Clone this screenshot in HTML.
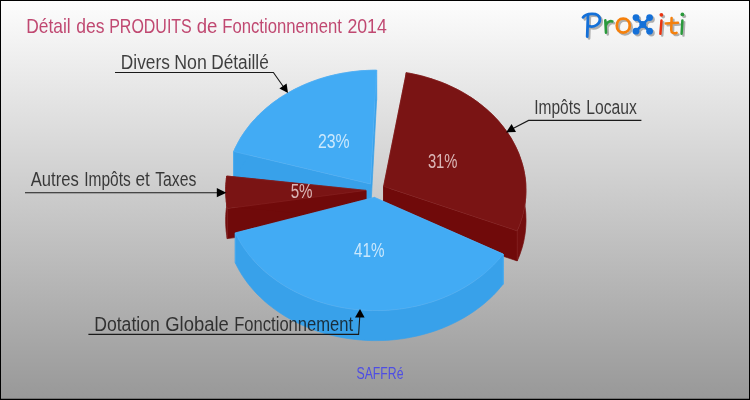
<!DOCTYPE html>
<html><head><meta charset="utf-8"><title>Chart</title>
<style>
html,body{margin:0;padding:0;background:#fff;}
body{width:750px;height:400px;overflow:hidden;}
svg{display:block;font-family:"Liberation Sans",sans-serif;}
</style></head><body>
<svg width="750" height="400" viewBox="0 0 750 400">
<defs>
<linearGradient id="bg" x1="0" y1="0" x2="0" y2="1">
<stop offset="0" stop-color="#FDFDFD"/><stop offset="1" stop-color="#989898"/>
</linearGradient>
<filter id="id" x="-5%" y="-5%" width="110%" height="110%"><feOffset dx="0" dy="0"/></filter>
</defs>
<rect x="0" y="0" width="750" height="400" fill="url(#bg)"/>
<g filter="url(#id)">
<!-- title -->
<g font-size="20.3" fill="#B8305F" fill-opacity="0.88">
<text x="26.3" y="32.6" textLength="44.4" lengthAdjust="spacingAndGlyphs">Détail</text>
<text x="76.2" y="32.6" textLength="28.2" lengthAdjust="spacingAndGlyphs">des</text>
<text x="109.2" y="32.6" textLength="82.6" lengthAdjust="spacingAndGlyphs">PRODUITS</text>
<text x="196.7" y="32.6" textLength="20.7" lengthAdjust="spacingAndGlyphs">de</text>
<text x="222.2" y="32.6" textLength="119.8" lengthAdjust="spacingAndGlyphs">Fonctionnement</text>
<text x="347.4" y="32.6" textLength="39.4" lengthAdjust="spacingAndGlyphs">2014</text>
</g>
<!-- pie -->
<g shape-rendering="geometricPrecision">
<!-- divers -->
<polygon points="370.5,184.0 233.7,151.5 233.7,181.5 370.5,214.0" fill="#38A1EA" stroke="#38A1EA" stroke-width="0.7" stroke-linejoin="round"/>
<polygon points="370.5,184.0 376.6,70.2 376.6,100.2 370.5,214.0" fill="#38A1EA" stroke="#38A1EA" stroke-width="0.7" stroke-linejoin="round"/>
<polygon points="233.7,151.5 234.7,149.1 235.8,146.8 237.0,144.5 238.2,142.2 239.5,139.9 240.8,137.6 242.2,135.4 243.7,133.2 245.2,131.0 246.8,128.9 248.4,126.7 250.1,124.6 251.8,122.5 253.6,120.5 255.5,118.5 257.3,116.5 259.3,114.5 261.3,112.6 263.3,110.7 265.4,108.9 267.6,107.1 269.7,105.3 272.0,103.5 274.2,101.8 276.6,100.2 278.9,98.5 281.3,96.9 283.8,95.4 286.3,93.9 288.8,92.4 291.4,91.0 294.0,89.6 296.6,88.3 299.3,87.0 302.0,85.7 304.7,84.5 307.4,83.4 310.2,82.3 313.1,81.2 315.9,80.2 318.8,79.2 321.7,78.3 324.6,77.4 327.5,76.6 330.5,75.8 333.5,75.1 336.5,74.4 339.5,73.8 342.5,73.2 345.6,72.7 348.7,72.2 351.7,71.8 354.8,71.4 357.9,71.1 361.0,70.8 364.1,70.6 367.2,70.4 370.3,70.3 373.5,70.2 376.6,70.2 376.6,100.2 373.5,100.2 370.3,100.3 367.2,100.4 364.1,100.6 361.0,100.8 357.9,101.1 354.8,101.4 351.7,101.8 348.7,102.2 345.6,102.7 342.5,103.2 339.5,103.8 336.5,104.4 333.5,105.1 330.5,105.8 327.5,106.6 324.6,107.4 321.7,108.3 318.8,109.2 315.9,110.2 313.1,111.2 310.2,112.3 307.4,113.4 304.7,114.5 302.0,115.7 299.3,117.0 296.6,118.3 294.0,119.6 291.4,121.0 288.8,122.4 286.3,123.9 283.8,125.4 281.3,126.9 278.9,128.5 276.6,130.2 274.2,131.8 272.0,133.5 269.7,135.3 267.6,137.1 265.4,138.9 263.3,140.7 261.3,142.6 259.3,144.5 257.3,146.5 255.5,148.5 253.6,150.5 251.8,152.5 250.1,154.6 248.4,156.7 246.8,158.9 245.2,161.0 243.7,163.2 242.2,165.4 240.8,167.6 239.5,169.9 238.2,172.2 237.0,174.5 235.8,176.8 234.7,179.1 233.7,181.5" fill="#38A1EA" stroke="#38A1EA" stroke-width="0.7" stroke-linejoin="round"/>
<line x1="233.7" y1="151.5" x2="233.7" y2="181.5" stroke="#62B8F8" stroke-width="0.8" stroke-opacity="0.55"/>
<line x1="376.6" y1="70.2" x2="376.6" y2="100.2" stroke="#62B8F8" stroke-width="0.8" stroke-opacity="0.55"/>
<polygon points="370.5,184.0 233.7,151.5 234.7,149.1 235.8,146.8 237.0,144.5 238.2,142.2 239.5,139.9 240.8,137.6 242.2,135.4 243.7,133.2 245.2,131.0 246.8,128.9 248.4,126.7 250.1,124.6 251.8,122.5 253.6,120.5 255.5,118.5 257.3,116.5 259.3,114.5 261.3,112.6 263.3,110.7 265.4,108.9 267.6,107.1 269.7,105.3 272.0,103.5 274.2,101.8 276.6,100.2 278.9,98.5 281.3,96.9 283.8,95.4 286.3,93.9 288.8,92.4 291.4,91.0 294.0,89.6 296.6,88.3 299.3,87.0 302.0,85.7 304.7,84.5 307.4,83.4 310.2,82.3 313.1,81.2 315.9,80.2 318.8,79.2 321.7,78.3 324.6,77.4 327.5,76.6 330.5,75.8 333.5,75.1 336.5,74.4 339.5,73.8 342.5,73.2 345.6,72.7 348.7,72.2 351.7,71.8 354.8,71.4 357.9,71.1 361.0,70.8 364.1,70.6 367.2,70.4 370.3,70.3 373.5,70.2 376.6,70.2" fill="#42ABF4" stroke="#62B8F8" stroke-width="0.8" stroke-opacity="0.55" stroke-linejoin="round"/>
<!-- imp -->
<polygon points="383.6,186.4 406.3,72.7 406.3,102.7 383.6,216.4" fill="#700A0A" stroke="#700A0A" stroke-width="0.7" stroke-linejoin="round"/>
<polygon points="383.6,186.4 517.2,230.9 517.2,260.9 383.6,216.4" fill="#700A0A" stroke="#700A0A" stroke-width="0.7" stroke-linejoin="round"/>
<polygon points="406.3,72.7 410.4,73.4 414.6,74.3 418.7,75.2 422.8,76.2 426.8,77.4 430.8,78.6 434.8,79.9 438.7,81.3 442.6,82.7 446.4,84.3 450.1,86.0 453.8,87.7 457.5,89.5 461.0,91.4 464.5,93.4 467.9,95.5 471.3,97.6 474.5,99.8 477.7,102.1 480.8,104.5 483.8,106.9 486.8,109.4 489.6,112.0 492.4,114.6 495.0,117.3 497.6,120.0 500.0,122.8 502.4,125.7 504.6,128.6 506.8,131.6 508.8,134.6 510.8,137.6 512.6,140.7 514.3,143.9 515.9,147.1 517.4,150.3 518.8,153.5 520.0,156.8 521.1,160.1 522.2,163.4 523.1,166.8 523.9,170.1 524.5,173.5 525.1,176.9 525.5,180.3 525.8,183.8 525.9,187.2 526.0,190.6 525.9,194.0 525.7,197.5 525.4,200.9 525.0,204.3 524.4,207.7 523.8,211.1 523.0,214.4 522.1,217.8 521.0,221.1 519.9,224.4 518.6,227.7 517.2,230.9 517.2,260.9 518.6,257.7 519.9,254.4 521.0,251.1 522.1,247.8 523.0,244.4 523.8,241.1 524.4,237.7 525.0,234.3 525.4,230.9 525.7,227.5 525.9,224.0 526.0,220.6 525.9,217.2 525.8,213.8 525.5,210.3 525.1,206.9 524.5,203.5 523.9,200.1 523.1,196.8 522.2,193.4 521.1,190.1 520.0,186.8 518.8,183.5 517.4,180.3 515.9,177.1 514.3,173.9 512.6,170.7 510.8,167.6 508.8,164.6 506.8,161.6 504.6,158.6 502.4,155.7 500.0,152.8 497.6,150.0 495.0,147.3 492.4,144.6 489.6,142.0 486.8,139.4 483.8,136.9 480.8,134.5 477.7,132.1 474.5,129.8 471.3,127.6 467.9,125.5 464.5,123.4 461.0,121.4 457.5,119.5 453.8,117.7 450.1,116.0 446.4,114.3 442.6,112.7 438.7,111.3 434.8,109.9 430.8,108.6 426.8,107.4 422.8,106.2 418.7,105.2 414.6,104.3 410.4,103.4 406.3,102.7" fill="#740E0E" stroke="#740E0E" stroke-width="0.7" stroke-linejoin="round"/>
<line x1="406.3" y1="72.7" x2="406.3" y2="102.7" stroke="#8E2C2C" stroke-width="0.8" stroke-opacity="0.55"/>
<line x1="517.2" y1="230.9" x2="517.2" y2="260.9" stroke="#8E2C2C" stroke-width="0.8" stroke-opacity="0.55"/>
<polygon points="383.6,186.4 406.3,72.7 410.4,73.4 414.6,74.3 418.7,75.2 422.8,76.2 426.8,77.4 430.8,78.6 434.8,79.9 438.7,81.3 442.6,82.7 446.4,84.3 450.1,86.0 453.8,87.7 457.5,89.5 461.0,91.4 464.5,93.4 467.9,95.5 471.3,97.6 474.5,99.8 477.7,102.1 480.8,104.5 483.8,106.9 486.8,109.4 489.6,112.0 492.4,114.6 495.0,117.3 497.6,120.0 500.0,122.8 502.4,125.7 504.6,128.6 506.8,131.6 508.8,134.6 510.8,137.6 512.6,140.7 514.3,143.9 515.9,147.1 517.4,150.3 518.8,153.5 520.0,156.8 521.1,160.1 522.2,163.4 523.1,166.8 523.9,170.1 524.5,173.5 525.1,176.9 525.5,180.3 525.8,183.8 525.9,187.2 526.0,190.6 525.9,194.0 525.7,197.5 525.4,200.9 525.0,204.3 524.4,207.7 523.8,211.1 523.0,214.4 522.1,217.8 521.0,221.1 519.9,224.4 518.6,227.7 517.2,230.9" fill="#7A1414" stroke="#8E2C2C" stroke-width="0.8" stroke-opacity="0.55" stroke-linejoin="round"/>
<!-- autres -->
<polygon points="366.0,190.4 227.3,208.6 227.3,238.6 366.0,220.4" fill="#700A0A" stroke="#700A0A" stroke-width="0.7" stroke-linejoin="round"/>
<polygon points="366.0,190.4 226.7,176.0 226.7,206.0 366.0,220.4" fill="#700A0A" stroke="#700A0A" stroke-width="0.7" stroke-linejoin="round"/>
<polygon points="227.3,208.6 227.2,208.0 227.1,207.5 227.0,207.0 226.9,206.4 226.9,205.9 226.8,205.3 226.7,204.8 226.6,204.3 226.5,203.7 226.5,203.2 226.4,202.6 226.3,202.1 226.2,201.5 226.2,201.0 226.1,200.5 226.1,199.9 226.0,199.4 226.0,198.8 225.9,198.3 225.9,197.7 225.8,197.2 225.8,196.6 225.8,196.1 225.7,195.6 225.7,195.0 225.7,194.5 225.7,193.9 225.6,193.4 225.6,192.8 225.6,192.3 225.6,191.7 225.6,191.2 225.6,190.7 225.6,190.1 225.6,189.6 225.6,189.0 225.6,188.5 225.6,187.9 225.6,187.4 225.7,186.8 225.7,186.3 225.7,185.7 225.7,185.2 225.8,184.7 225.8,184.1 225.8,183.6 225.9,183.0 225.9,182.5 226.0,181.9 226.0,181.4 226.1,180.8 226.1,180.3 226.2,179.8 226.3,179.2 226.3,178.7 226.4,178.1 226.5,177.6 226.5,177.0 226.6,176.5 226.7,176.0 226.7,206.0 226.6,206.5 226.5,207.0 226.5,207.6 226.4,208.1 226.3,208.7 226.3,209.2 226.2,209.8 226.1,210.3 226.1,210.8 226.0,211.4 226.0,211.9 225.9,212.5 225.9,213.0 225.8,213.6 225.8,214.1 225.8,214.7 225.7,215.2 225.7,215.7 225.7,216.3 225.7,216.8 225.6,217.4 225.6,217.9 225.6,218.5 225.6,219.0 225.6,219.6 225.6,220.1 225.6,220.7 225.6,221.2 225.6,221.7 225.6,222.3 225.6,222.8 225.6,223.4 225.7,223.9 225.7,224.5 225.7,225.0 225.7,225.6 225.8,226.1 225.8,226.6 225.8,227.2 225.9,227.7 225.9,228.3 226.0,228.8 226.0,229.4 226.1,229.9 226.1,230.5 226.2,231.0 226.2,231.5 226.3,232.1 226.4,232.6 226.5,233.2 226.5,233.7 226.6,234.3 226.7,234.8 226.8,235.3 226.9,235.9 226.9,236.4 227.0,237.0 227.1,237.5 227.2,238.0 227.3,238.6" fill="#740E0E" stroke="#740E0E" stroke-width="0.7" stroke-linejoin="round"/>
<line x1="227.3" y1="208.6" x2="227.3" y2="238.6" stroke="#8E2C2C" stroke-width="0.8" stroke-opacity="0.55"/>
<line x1="226.7" y1="176.0" x2="226.7" y2="206.0" stroke="#8E2C2C" stroke-width="0.8" stroke-opacity="0.55"/>
<polygon points="366.0,190.4 227.3,208.6 227.2,208.0 227.1,207.5 227.0,207.0 226.9,206.4 226.9,205.9 226.8,205.3 226.7,204.8 226.6,204.3 226.5,203.7 226.5,203.2 226.4,202.6 226.3,202.1 226.2,201.5 226.2,201.0 226.1,200.5 226.1,199.9 226.0,199.4 226.0,198.8 225.9,198.3 225.9,197.7 225.8,197.2 225.8,196.6 225.8,196.1 225.7,195.6 225.7,195.0 225.7,194.5 225.7,193.9 225.6,193.4 225.6,192.8 225.6,192.3 225.6,191.7 225.6,191.2 225.6,190.7 225.6,190.1 225.6,189.6 225.6,189.0 225.6,188.5 225.6,187.9 225.6,187.4 225.7,186.8 225.7,186.3 225.7,185.7 225.7,185.2 225.8,184.7 225.8,184.1 225.8,183.6 225.9,183.0 225.9,182.5 226.0,181.9 226.0,181.4 226.1,180.8 226.1,180.3 226.2,179.8 226.3,179.2 226.3,178.7 226.4,178.1 226.5,177.6 226.5,177.0 226.6,176.5 226.7,176.0" fill="#7A1414" stroke="#8E2C2C" stroke-width="0.8" stroke-opacity="0.55" stroke-linejoin="round"/>
<!-- dot -->
<polygon points="374.4,197.4 503.2,254.1 503.2,284.1 374.4,227.4" fill="#38A1EA" stroke="#38A1EA" stroke-width="0.7" stroke-linejoin="round"/>
<polygon points="374.4,197.4 235.3,232.9 235.3,262.9 374.4,227.4" fill="#38A1EA" stroke="#38A1EA" stroke-width="0.7" stroke-linejoin="round"/>
<polygon points="503.2,254.1 500.1,257.8 496.9,261.5 493.6,265.0 490.0,268.4 486.3,271.8 482.5,275.0 478.5,278.1 474.4,281.1 470.1,283.9 465.7,286.7 461.2,289.3 456.6,291.7 451.8,294.1 447.0,296.2 442.1,298.3 437.0,300.2 431.9,301.9 426.7,303.5 421.4,304.9 416.1,306.2 410.7,307.3 405.3,308.3 399.8,309.1 394.3,309.7 388.8,310.2 383.2,310.5 377.7,310.6 372.1,310.6 366.6,310.4 361.0,310.0 355.5,309.5 350.0,308.8 344.5,308.0 339.1,307.0 333.7,305.8 328.4,304.5 323.2,303.0 318.0,301.4 312.9,299.6 307.9,297.6 303.0,295.5 298.2,293.3 293.5,290.9 288.9,288.4 284.4,285.8 280.1,283.0 275.8,280.1 271.8,277.1 267.8,274.0 264.0,270.7 260.4,267.3 256.9,263.9 253.6,260.3 250.4,256.6 247.5,252.9 244.7,249.0 242.0,245.1 239.6,241.1 237.4,237.0 235.3,232.9 235.3,262.9 237.4,267.0 239.6,271.1 242.0,275.1 244.7,279.0 247.5,282.9 250.4,286.6 253.6,290.3 256.9,293.9 260.4,297.3 264.0,300.7 267.8,304.0 271.8,307.1 275.8,310.1 280.1,313.0 284.4,315.8 288.9,318.4 293.5,320.9 298.2,323.3 303.0,325.5 307.9,327.6 312.9,329.6 318.0,331.4 323.2,333.0 328.4,334.5 333.7,335.8 339.1,337.0 344.5,338.0 350.0,338.8 355.5,339.5 361.0,340.0 366.6,340.4 372.1,340.6 377.7,340.6 383.2,340.5 388.8,340.2 394.3,339.7 399.8,339.1 405.3,338.3 410.7,337.3 416.1,336.2 421.4,334.9 426.7,333.5 431.9,331.9 437.0,330.2 442.1,328.3 447.0,326.2 451.8,324.1 456.6,321.7 461.2,319.3 465.7,316.7 470.1,313.9 474.4,311.1 478.5,308.1 482.5,305.0 486.3,301.8 490.0,298.4 493.6,295.0 496.9,291.5 500.1,287.8 503.2,284.1" fill="#38A1EA" stroke="#38A1EA" stroke-width="0.7" stroke-linejoin="round"/>
<line x1="503.2" y1="254.1" x2="503.2" y2="284.1" stroke="#62B8F8" stroke-width="0.8" stroke-opacity="0.55"/>
<line x1="235.3" y1="232.9" x2="235.3" y2="262.9" stroke="#62B8F8" stroke-width="0.8" stroke-opacity="0.55"/>
<polygon points="374.4,197.4 503.2,254.1 500.1,257.8 496.9,261.5 493.6,265.0 490.0,268.4 486.3,271.8 482.5,275.0 478.5,278.1 474.4,281.1 470.1,283.9 465.7,286.7 461.2,289.3 456.6,291.7 451.8,294.1 447.0,296.2 442.1,298.3 437.0,300.2 431.9,301.9 426.7,303.5 421.4,304.9 416.1,306.2 410.7,307.3 405.3,308.3 399.8,309.1 394.3,309.7 388.8,310.2 383.2,310.5 377.7,310.6 372.1,310.6 366.6,310.4 361.0,310.0 355.5,309.5 350.0,308.8 344.5,308.0 339.1,307.0 333.7,305.8 328.4,304.5 323.2,303.0 318.0,301.4 312.9,299.6 307.9,297.6 303.0,295.5 298.2,293.3 293.5,290.9 288.9,288.4 284.4,285.8 280.1,283.0 275.8,280.1 271.8,277.1 267.8,274.0 264.0,270.7 260.4,267.3 256.9,263.9 253.6,260.3 250.4,256.6 247.5,252.9 244.7,249.0 242.0,245.1 239.6,241.1 237.4,237.0 235.3,232.9" fill="#42ABF4" stroke="#62B8F8" stroke-width="0.8" stroke-opacity="0.55" stroke-linejoin="round"/>
</g>
<!-- percentages -->
<g font-size="19.5" fill="#FFFFFF" fill-opacity="0.72">
<text x="318" y="148" textLength="31.7" lengthAdjust="spacingAndGlyphs">23%</text>
<text x="427.9" y="168.1" textLength="29.6" lengthAdjust="spacingAndGlyphs" fill="#FFF4F4">31%</text>
<text x="290.7" y="198" textLength="21.9" lengthAdjust="spacingAndGlyphs" fill="#FFF4F4">5%</text>
<text x="354" y="257.4" textLength="30.4" lengthAdjust="spacingAndGlyphs">41%</text>
</g>
<!-- labels -->
<g font-size="20" fill="#111111" fill-opacity="0.8">
<text x="120.8" y="69" textLength="49.0" lengthAdjust="spacingAndGlyphs">Divers</text>
<text x="174.2" y="69" textLength="32.6" lengthAdjust="spacingAndGlyphs">Non</text>
<text x="211.2" y="69" textLength="57.6" lengthAdjust="spacingAndGlyphs">Détaillé</text>
<text x="30.8" y="186" textLength="48.0" lengthAdjust="spacingAndGlyphs">Autres</text>
<text x="84.2" y="186" textLength="46.6" lengthAdjust="spacingAndGlyphs">Impôts</text>
<text x="135.4" y="186" textLength="14.4" lengthAdjust="spacingAndGlyphs">et</text>
<text x="155.2" y="186" textLength="41.2" lengthAdjust="spacingAndGlyphs">Taxes</text>
<text x="534.2" y="113.6" textLength="46.6" lengthAdjust="spacingAndGlyphs">Impôts</text>
<text x="586.2" y="113.6" textLength="50.6" lengthAdjust="spacingAndGlyphs">Locaux</text>
<text x="94.2" y="331" textLength="65.6" lengthAdjust="spacingAndGlyphs">Dotation</text>
<text x="165.2" y="331" textLength="63.6" lengthAdjust="spacingAndGlyphs">Globale</text>
<text x="234.2" y="331" textLength="119.0" lengthAdjust="spacingAndGlyphs">Fonctionnement</text>
</g>
<g stroke="#1A1A1A" stroke-width="1.1" fill="none">
<polyline points="115,72.5 273.4,72.5 285,89"/>
<polyline points="25,192.8 218,192.8"/>
<polyline points="641.4,120.4 528.6,120.4 512,129"/>
<polyline points="88.4,334.4 358.6,334.4 359.8,316"/>
</g>
<g fill="#000">
<polygon points="288,93 279.4,88.4 286.6,83.4"/>
<polygon points="226.4,192.7 216.8,188.1 216.8,197.3"/>
<polygon points="506,132.4 511.6,124 516,132"/>
<polygon points="360,309 355,317.6 364.6,317.6"/>
</g>
<!-- commune -->
<text x="356.5" y="378.8" font-size="15.8" fill="#4040F0" fill-opacity="0.85" textLength="47" lengthAdjust="spacingAndGlyphs">SAFFRé</text>
</g>
<!-- logo -->
<g id="logo" fill="none" stroke-linecap="round" stroke-linejoin="round">
<g transform="translate(1.8,1.8)" stroke="#ABABAB" opacity="0.95">
<path d="M588,14.8 L587.2,36.6" stroke-width="2.8"/>
<path d="M583,17.4 C585.5,13.4 598.5,11.6 599.8,18.4 C600.8,24.6 593.5,27.6 589,26.2" stroke-width="2.8"/>
<path d="M605.3,20.2 L606,32.6 M606,25 C607,22 610,20.6 612.4,21.4" stroke-width="2.6"/>
<path d="M623.2,18.6 C627.2,18.6 629.8,21.6 629.8,25.6 C629.8,29.6 627.2,32.6 623.2,32.6 C619.2,32.6 616.8,29.6 616.8,25.6 C616.8,21.6 619.2,18.6 623.2,18.6 Z" stroke-width="2.8"/>
<path d="M636,17.6 L649.6,31.2 M649.6,17.6 L636,31.2" stroke-width="2.7"/>
<path d="M661.5,20.4 L660.4,33.8" stroke-width="2.5"/>
<path d="M671.6,18 L671.2,30 C671.2,33 674,34 676.6,32.8 M665.8,23.4 L678,22.8" stroke-width="2.5"/>
<path d="M682.4,20.4 L681.6,33.8" stroke-width="2.5"/>
<circle cx="636" cy="17.6" r="3.4" fill="#ABABAB" stroke="none"/>
<circle cx="649.6" cy="17.6" r="3.4" fill="#ABABAB" stroke="none"/>
<circle cx="636" cy="31.2" r="3.4" fill="#ABABAB" stroke="none"/>
<circle cx="649.6" cy="31.2" r="3.4" fill="#ABABAB" stroke="none"/>
<circle cx="642.8" cy="24.4" r="3.5" fill="#ABABAB" stroke="none"/>
<circle cx="661.4" cy="14.8" r="1.9" fill="#ABABAB" stroke="none"/>
<circle cx="682.4" cy="14.4" r="1.9" fill="#ABABAB" stroke="none"/>
</g>
<path d="M588,14.8 L587.2,36.6" stroke="#1470D8" stroke-width="2.8"/>
<path d="M583,17.4 C585.5,13.4 598.5,11.6 599.8,18.4 C600.8,24.6 593.5,27.6 589,26.2" stroke="#1470D8" stroke-width="2.8"/>
<path d="M605.3,20.2 L606,32.6 M606,25 C607,22 610,20.6 612.4,21.4" stroke="#2A9A3C" stroke-width="2.6"/>
<path d="M623.2,18.6 C627.2,18.6 629.8,21.6 629.8,25.6 C629.8,29.6 627.2,32.6 623.2,32.6 C619.2,32.6 616.8,29.6 616.8,25.6 C616.8,21.6 619.2,18.6 623.2,18.6 Z" stroke="#F5800C" stroke-width="2.8"/>
<path d="M636,17.6 L649.6,31.2 M649.6,17.6 L636,31.2" stroke="#1470D8" stroke-width="2.7"/>
<path d="M661.5,20.4 L660.4,33.8" stroke="#EA3410" stroke-width="2.5"/>
<path d="M671.6,18 L671.2,30 C671.2,33 674,34 676.6,32.8 M665.8,23.4 L678,22.8" stroke="#F5800C" stroke-width="2.5"/>
<path d="M682.4,20.4 L681.6,33.8" stroke="#2A9A3C" stroke-width="2.5"/>
<circle cx="636" cy="17.6" r="3.4" fill="#1470D8" stroke="none"/>
<circle cx="649.6" cy="17.6" r="3.4" fill="#1470D8" stroke="none"/>
<circle cx="636" cy="31.2" r="3.4" fill="#1470D8" stroke="none"/>
<circle cx="649.6" cy="31.2" r="3.4" fill="#1470D8" stroke="none"/>
<circle cx="642.8" cy="24.4" r="3.5" fill="#1470D8" stroke="none"/>
<circle cx="661.4" cy="14.8" r="1.9" fill="#EA3410" stroke="none"/>
<circle cx="682.4" cy="14.4" r="1.9" fill="#2A9A3C" stroke="none"/>
</g>
<!-- border -->
<rect x="0.5" y="0.5" width="749" height="399" fill="none" stroke="#000" stroke-width="1"/>
<rect x="0" y="398.75" width="750" height="1.25" fill="#000"/>
</svg>
</body></html>
